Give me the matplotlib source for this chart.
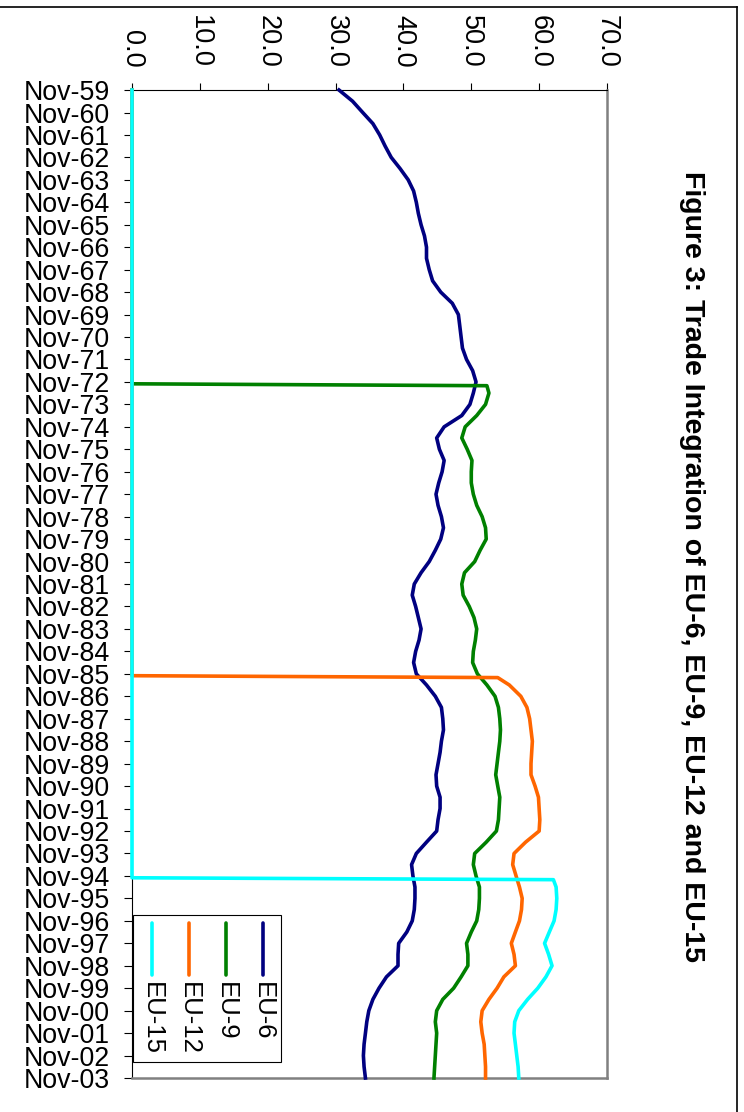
import numpy as np
import pandas as pd
import matplotlib
matplotlib.use("Agg")
import matplotlib.pyplot as plt
from matplotlib.lines import Line2D
from matplotlib.patches import Rectangle

plt.rcParams['font.family'] = ['Liberation Sans', 'DejaVu Sans']

# half-yearly readings, Nov-59 .. Nov-03
half_years = pd.date_range('1959-11-01', '2003-11-01', freq='6MS')
year_ticks = pd.date_range('1959-11-01', '2003-11-01', freq='12MS')

eu6 = [30.5, 32.5, 34.0, 35.5, 36.5, 37.3, 38.2, 39.5, 40.7, 41.5,
       41.9, 42.2, 42.6, 43.1, 43.4, 43.4, 43.8, 44.3, 45.5, 47.2,
       48.1, 48.3, 48.5, 48.7, 49.3, 50.2, 50.7, 50.3, 49.8, 48.6,
       46.0, 44.9, 45.3, 46.0, 45.7, 45.2, 44.8, 45.1, 45.6, 45.9,
       45.5, 44.7, 43.8, 42.6, 41.6, 41.3, 41.8, 42.2, 42.6, 42.3,
       41.8, 41.5, 41.9, 43.4, 44.7, 45.6, 45.8, 45.9, 45.6, 45.4,
       45.1, 44.8, 44.9, 45.4, 45.4, 45.1, 44.9, 43.4, 41.9, 41.2,
       41.4, 41.7, 41.7, 41.6, 41.3, 40.5, 39.3, 39.2, 39.2, 37.5,
       36.4, 35.5, 34.9, 34.6, 34.4, 34.2, 34.1, 34.2, 34.4]

# first value = month of entry, then every six months
eu9_entry = '1973-01-01'
eu9 = [52.3,
       52.6, 52.1, 50.8, 49.1, 48.6, 49.4, 50.1, 50.0, 50.0, 50.3,
       50.8, 51.6, 52.1, 52.2, 51.3, 50.5, 49.0, 48.6, 48.8, 49.7,
       50.4, 50.8, 50.6, 50.3, 50.2, 50.9, 52.3, 53.5, 54.0, 54.2,
       54.3, 54.2, 54.0, 53.8, 53.6, 53.9, 54.2, 54.1, 54.0, 53.7,
       52.2, 50.5, 50.3, 50.7, 51.2, 51.2, 51.1, 50.8, 50.0, 49.3,
       49.5, 49.5, 48.5, 47.4, 45.8, 44.9, 44.7, 44.9, 44.8, 44.7,
       44.6, 44.5]

eu12_entry = '1986-01-01'
eu12 = [53.9,
        55.6, 57.3, 58.2, 58.6, 58.8, 59.0, 58.9, 58.8, 58.8, 59.4,
        59.9, 60.0, 60.1, 60.0, 58.0, 56.3, 56.1, 56.6, 57.1, 57.5,
        57.4, 57.1, 56.5, 55.9, 56.3, 56.5, 54.8, 53.8, 52.6, 51.6,
        51.4, 51.6, 51.9, 52.0, 52.1, 52.1]

eu15_entry = '1995-01-01'
eu15 = [62.1,
        62.5, 62.6, 62.5, 62.2, 61.5, 60.8, 61.4, 61.9, 61.0, 59.8,
        58.3, 57.0, 56.4, 56.3, 56.5, 56.7, 56.9, 57.0]

names = ['EU-6', 'EU-9', 'EU-12', 'EU-15']
colors = ['#000080', '#008000', '#FF6600', '#00FFFF']


def with_entry(entry, values):
    # zero before the country group existed, then the readings
    entry = pd.Timestamp(entry)
    later = list(half_years[half_years > entry])
    dates = [half_years[0], entry - pd.DateOffset(months=1), entry] + later
    return dates, [0, 0] + values


series = [(list(half_years), eu6),
          with_entry(eu9_entry, eu9),
          with_entry(eu12_entry, eu12),
          with_entry(eu15_entry, eu15)]

W, H = 744, 1112
fig = plt.figure(figsize=(W / 100, H / 100), dpi=100)


def fx(x):
    return x / W


def fy(y):
    return 1 - y / H


ax = fig.add_axes([fx(132), fy(1078), fx(607) - fx(132), fy(90) - fy(1078)])

# chart is turned on its side: value across, time down
for (d, v), c in zip(series, colors):
    ax.plot(v, d, color=c, lw=2.6, solid_joinstyle='round', clip_on=False, zorder=3)

ax.set_xlim(0, 70)
ax.set_ylim(year_ticks[-1], year_ticks[0])
ax.set_xticks(np.arange(0, 71, 10))
ax.set_xticklabels([f'{v:.1f}' for v in np.arange(0, 71, 10)])
ax.xaxis.tick_top()
ax.set_yticks(year_ticks)
ax.set_yticklabels([d.strftime('%b-%y') for d in year_ticks])
ax.tick_params(axis='x', labelrotation=-90, labelsize=19.5, length=5, pad=11, width=0.8)
ax.tick_params(axis='y', labelsize=19.3, length=6, pad=10, width=0.8)

ax.spines['top'].set_color('black')
ax.spines['left'].set_color('black')
for s in ['right', 'bottom']:
    ax.spines[s].set_color('#808080')
    ax.spines[s].set_linewidth(1.8)

# rotated legend drawn by hand
fig.add_artist(Rectangle((fx(133), fy(1062)), fx(281) - fx(133), fy(915) - fy(1062),
                         transform=fig.transFigure, fill=True, facecolor='white',
                         edgecolor='black', lw=0.8, zorder=4))
for name, c, x in zip(names, colors, [263, 226, 189, 152]):
    fig.add_artist(Line2D([fx(x), fx(x)], [fy(923), fy(975)], color=c, lw=2.6,
                          solid_capstyle='round', transform=fig.transFigure, zorder=5))
    fig.text(fx(x), fy(982), name, rotation=-90, ha='center', va='top', fontsize=18.5,
             zorder=5)

fig.text(fx(692), fy(566), 'Figure 3: Trade Integration of EU-6, EU-9, EU-12 and EU-15',
         rotation=-90, ha='center', va='center', fontsize=20.5, fontweight='bold')

# chart border (cropped)
fig.add_artist(Line2D([0, fx(737)], [fy(7), fy(7)], color='black', lw=1.2,
                      transform=fig.transFigure))
fig.add_artist(Line2D([fx(737), fx(737)], [fy(7), 0], color='black', lw=1.2,
                      transform=fig.transFigure))

fig.savefig('out.png', dpi=100)
